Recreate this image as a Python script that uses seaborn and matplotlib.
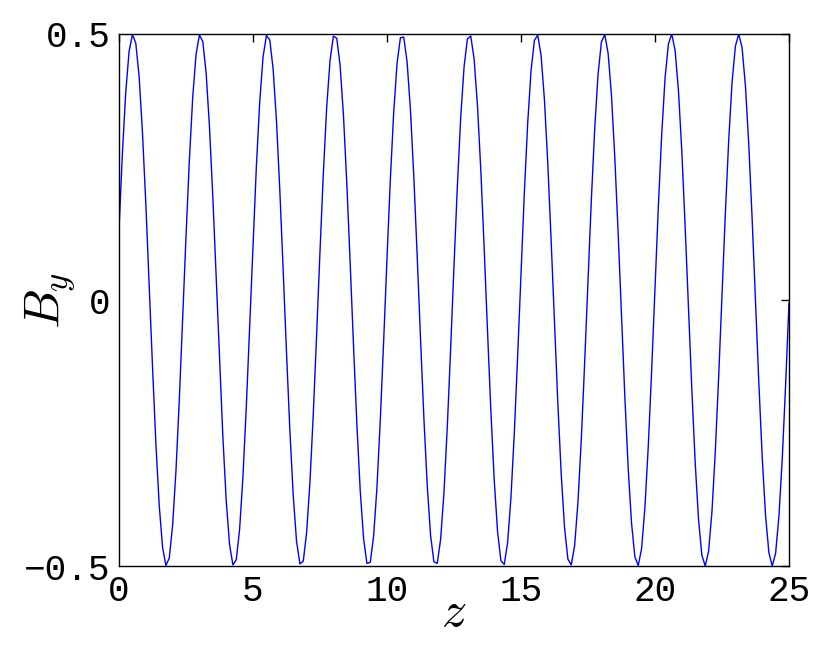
import numpy as np
import pandas as pd
import matplotlib
matplotlib.use("Agg")
import matplotlib.pyplot as plt
import seaborn as sns

# DADOS (passo de 0.125 em z)

z_inicio = 0.0
z_passo = 0.125

by_ciclo_0 = [0.133, 0.275, 0.390, 0.467, 0.499, 0.483, 0.420, 0.315, 0.181, 0.029,
              -0.126, -0.269, -0.386, -0.465, -0.499, -0.485, -0.423, -0.321, -0.187, -0.035]
by_ciclo_1 = [0.120, 0.263, 0.381, 0.462, 0.498, 0.486, 0.427, 0.326, 0.194, 0.042,
              -0.113, -0.257, -0.377, -0.460, -0.498, -0.488, -0.431, -0.331, -0.200, -0.049]
by_ciclo_2 = [0.106, 0.251, 0.372, 0.457, 0.497, 0.489, 0.434, 0.337, 0.206, 0.056,
              -0.099, -0.245, -0.367, -0.454, -0.496, -0.491, -0.437, -0.342, -0.213, -0.063]
by_ciclo_3 = [0.092, 0.239, 0.363, 0.451, 0.496, 0.492, 0.441, 0.347, 0.219, 0.070,
              -0.086, -0.233, -0.358, -0.448, -0.495, -0.493, -0.444, -0.352, -0.225, -0.077]
by_ciclo_4 = [0.079, 0.227, 0.353, 0.445, 0.493, 0.494, 0.447, 0.357, 0.232, 0.084,
              -0.072, -0.221, -0.348, -0.442, -0.492, -0.495, -0.450, -0.362, -0.238, -0.091]
by_ciclo_5 = [0.065, 0.214, 0.343, 0.438, 0.491, 0.496, 0.453, 0.366, 0.244, 0.098,
              -0.058, -0.208, -0.338, -0.435, -0.490, -0.497, -0.456, -0.371, -0.250, -0.105]
by_ciclo_6 = [0.051, 0.202, 0.333, 0.431, 0.488, 0.498, 0.459, 0.376, 0.256, 0.111,
              -0.044, -0.195, -0.327, -0.428, -0.487, -0.498, -0.462, -0.380, -0.262, -0.118]
by_ciclo_7 = [0.037, 0.189, 0.322, 0.424, 0.485, 0.499, 0.464, 0.385, 0.268, 0.125,
              -0.030, -0.182, -0.317, -0.420, -0.483, -0.499, -0.467, -0.389, -0.274, -0.132]
by_ciclo_8 = [0.023, 0.176, 0.311, 0.417, 0.481, 0.500, 0.469, 0.394, 0.280, 0.138,
              -0.016, -0.169, -0.306, -0.413, -0.480, -0.500, -0.472, -0.398, -0.285, -0.145]
by_ciclo_9 = [0.009, 0.163, 0.300, 0.409, 0.477, 0.500, 0.474, 0.402, 0.291, 0.152,
              -0.002, -0.156, -0.295, -0.405, -0.475, -0.500, -0.476, -0.406, -0.297, -0.158]
by_final = [-0.005]

x_ticks = [0, 5, 10, 15, 20, 25]
y_ticks = [-0.5, 0, 0.5]
y_tick_labels = ["\u22120.5", "0", "0.5"]

# MONTAGEM DO DATAFRAME

by_valores = (by_ciclo_0 + by_ciclo_1 + by_ciclo_2 + by_ciclo_3 + by_ciclo_4 +
              by_ciclo_5 + by_ciclo_6 + by_ciclo_7 + by_ciclo_8 + by_ciclo_9 + by_final)
z_valores = z_inicio + z_passo * np.arange(len(by_valores))
df = pd.DataFrame({"z": z_valores, "By": by_valores})

# ESTILO

sns.set_style("white")
plt.rcParams["mathtext.fontset"] = "cm"
plt.rcParams["xtick.direction"] = "in"
plt.rcParams["ytick.direction"] = "in"
plt.rcParams["xtick.top"] = True
plt.rcParams["ytick.right"] = True

fig = plt.figure(figsize=(8.3, 6.46), dpi=100)
ax = fig.add_axes([0.1434, 0.1238, 0.8072, 0.8236])

sns.lineplot(data=df, x="z", y="By", color="#0000ff", linewidth=1.0, ax=ax)

ax.set_xlim(0, 25)
ax.set_ylim(-0.5, 0.5)
ax.set_xticks(x_ticks)
ax.set_yticks(y_ticks)
ax.set_yticklabels(y_tick_labels)

for lbl in ax.get_xticklabels() + ax.get_yticklabels():
    lbl.set_family("Liberation Mono")
    lbl.set_fontsize(26)
    lbl.set_color("black")

ax.tick_params(axis="both", length=6, width=1, color="black", pad=6)
for sp in ax.spines.values():
    sp.set_color("black")
    sp.set_linewidth(1)

ax.set_xlabel("$z$", fontsize=36, color="black")
ax.set_ylabel("$B_y$", fontsize=36, color="black")
ax.xaxis.set_label_coords(0.5, -0.042)
ax.yaxis.set_label_coords(-0.063, 0.5)

fig.savefig("out.png", dpi=100)
